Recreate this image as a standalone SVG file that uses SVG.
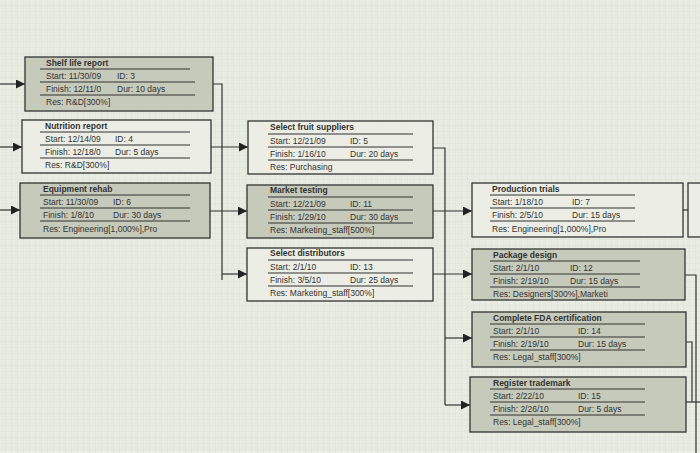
<svg xmlns="http://www.w3.org/2000/svg" width="700" height="453" viewBox="0 0 700 453">
<defs>
<pattern id="grid" width="6" height="6" patternUnits="userSpaceOnUse"><rect width="6" height="6" fill="#e9ece2"/><path d="M6 0V6H0" fill="none" stroke="#d9ddd0" stroke-width="0.8"/></pattern>
<marker id="ar" viewBox="0 0 10 10" refX="10" refY="5" markerWidth="9" markerHeight="9" orient="auto" markerUnits="userSpaceOnUse"><path d="M0 0L10 5L0 10Z" fill="#222"/></marker>
</defs>
<style>
.g{fill:#c6cabb;stroke:#333;stroke-width:1.3}
.w{fill:#eceee5;stroke:#333;stroke-width:1.3}
.s{stroke:#333;stroke-width:1.2}
text{font-family:"Liberation Sans",Arial,sans-serif;font-size:8.5px;fill:#333}
.t{font-weight:bold}
.c path{fill:none;stroke:#333;stroke-width:1.2}
</style>
<rect width="700" height="453" fill="url(#grid)"/>
<g class="c">
<path d="M0 84H25" marker-end="url(#ar)"/>
<path d="M0 147H22" marker-end="url(#ar)"/>
<path d="M0 210H20" marker-end="url(#ar)"/>
<path d="M213 84H222V280"/>
<path d="M211 147H248" marker-end="url(#ar)"/>
<path d="M210 211H247" marker-end="url(#ar)"/>
<path d="M222 274H247" marker-end="url(#ar)"/>
<path d="M433 148H445V405"/>
<path d="M433 211H472" marker-end="url(#ar)"/>
<path d="M433 274H472" marker-end="url(#ar)"/>
<path d="M445 338H472" marker-end="url(#ar)"/>
<path d="M445 405H470" marker-end="url(#ar)"/>
<path d="M683 210H699" marker-end="url(#ar)"/>
<path d="M685 275H696V453"/>
<path d="M686 342H692V402"/>
<path d="M686 402H700"/>
</g>
<g id="n3"><rect class="g" x="25" y="57" width="188" height="54"/><text class="t" x="46" y="66">Shelf life report</text><path class="s" d="M40 69H190M40 82H195M40 95H195"/><text x="46" y="79">Start: 11/30/09</text><text x="117" y="79">ID: 3</text><text x="46" y="92">Finish: 12/11/0</text><text x="117" y="92">Dur: 10 days</text><text x="46" y="105">Res: R&amp;D[300%]</text></g>
<g id="n4"><rect class="w" x="22" y="120" width="189" height="53"/><text class="t" x="45" y="129">Nutrition report</text><path class="s" d="M40 132H190M40 145H190M40 158H190"/><text x="45" y="142">Start: 12/14/09</text><text x="115" y="142">ID: 4</text><text x="45" y="155">Finish: 12/18/0</text><text x="115" y="155">Dur: 5 days</text><text x="45" y="168">Res: R&amp;D[300%]</text></g>
<g id="n6"><rect class="g" x="20" y="183" width="190" height="55"/><text class="t" x="43" y="192">Equipment rehab</text><path class="s" d="M40 195H190M40 208H190M40 221H190"/><text x="43" y="205">Start: 11/30/09</text><text x="113" y="205">ID: 6</text><text x="43" y="218">Finish: 1/8/10</text><text x="113" y="218">Dur: 30 days</text><text x="43" y="232">Res:   Engineering[1,000%],Pro</text></g>
<g id="n5"><rect class="w" x="248" y="121" width="185" height="53"/><text class="t" x="270" y="130">Select fruit suppliers</text><path class="s" d="M268 134H413M268 147H413M268 160H413"/><text x="270" y="144">Start: 12/21/09</text><text x="350" y="144">ID: 5</text><text x="270" y="157">Finish: 1/16/10</text><text x="350" y="157">Dur: 20 days</text><text x="270" y="170">Res: Purchasing</text></g>
<g id="n11"><rect class="g" x="247" y="185" width="186" height="53"/><text class="t" x="270" y="193">Market testing</text><path class="s" d="M268 197H413M268 210H413M268 223H413"/><text x="270" y="207">Start: 12/21/09</text><text x="350" y="207">ID: 11</text><text x="270" y="220">Finish: 1/29/10</text><text x="350" y="220">Dur: 30 days</text><text x="270" y="233">Res: Marketing_staff[500%]</text></g>
<g id="n13"><rect class="w" x="247" y="248" width="186" height="53"/><text class="t" x="270" y="256">Select distributors</text><path class="s" d="M268 260H413M268 273H413M268 286H413"/><text x="270" y="270">Start: 2/1/10</text><text x="350" y="270">ID: 13</text><text x="270" y="283">Finish: 3/5/10</text><text x="350" y="283">Dur: 25 days</text><text x="270" y="296">Res: Marketing_staff[300%]</text></g>
<g id="n7"><rect class="w" x="472" y="183" width="211" height="54"/><text class="t" x="492" y="192">Production trials</text><path class="s" d="M490 195H635M490 208H635M490 221H635"/><text x="492" y="205">Start: 1/18/10</text><text x="572" y="205">ID: 7</text><text x="492" y="218">Finish: 2/5/10</text><text x="572" y="218">Dur: 15 days</text><text x="492" y="232">Res:   Engineering[1,000%],Pro</text></g>
<g id="n12"><rect class="g" x="472" y="249" width="213" height="51"/><text class="t" x="493" y="258">Package design</text><path class="s" d="M490 261H640M490 274H640M490 287H640"/><text x="493" y="271">Start: 2/1/10</text><text x="570" y="271">ID: 12</text><text x="493" y="284">Finish: 2/19/10</text><text x="570" y="284">Dur: 15 days</text><text x="493" y="297">Res:   Designers[300%],Marketi</text></g>
<g id="n14"><rect class="g" x="472" y="312" width="214" height="55"/><text class="t" x="493" y="321">Complete FDA certification</text><path class="s" d="M490 324H645M490 337H645M490 350H645"/><text x="493" y="334">Start: 2/1/10</text><text x="578" y="334">ID: 14</text><text x="493" y="347">Finish: 2/19/10</text><text x="578" y="347">Dur: 15 days</text><text x="493" y="360">Res: Legal_staff[300%]</text></g>
<g id="n15"><rect class="g" x="470" y="377" width="216" height="55"/><text class="t" x="493" y="386">Register trademark</text><path class="s" d="M490 389H645M490 402H645M490 415H645"/><text x="493" y="399">Start: 2/22/10</text><text x="578" y="399">ID: 15</text><text x="493" y="412">Finish: 2/26/10</text><text x="578" y="412">Dur: 5 days</text><text x="493" y="425">Res: Legal_staff[300%]</text></g>
<g id="nx"><rect class="w" x="688" y="183" width="20" height="54"/></g>
</svg>
